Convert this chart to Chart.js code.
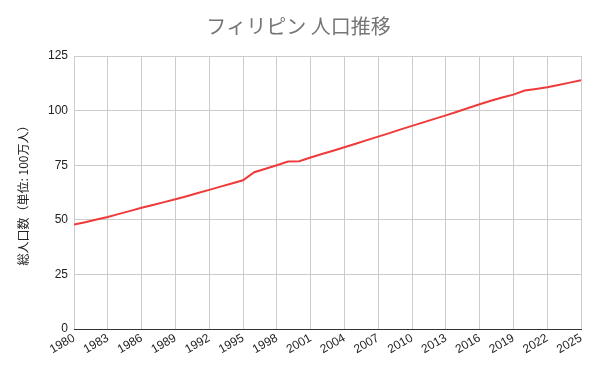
<!DOCTYPE html>
<html>
<head>
<meta charset="utf-8">
<script src="https://cdn.jsdelivr.net/npm/chart.js@4"></script>
<style>
html,body{margin:0;padding:0;background:#fff;}
#wrap{width:600px;height:371px;}
</style>
</head>
<body>
<div id="wrap"><canvas id="c" width="600" height="371"></canvas></div>
<script>
const years = [1980,1981,1982,1983,1984,1985,1986,1987,1988,1989,1990,1991,1992,1993,1994,1995,1996,1997,1998,1999,2000,2001,2002,2003,2004,2005,2006,2007,2008,2009,2010,2011,2012,2013,2014,2015,2016,2017,2018,2019,2020,2021,2022,2023,2024,2025];
const population = [47.8,48.9,50.1,51.3,52.7,54.1,55.5,56.8,58.1,59.4,60.8,62.3,63.7,65.2,66.6,68.1,71.8,73.4,75.0,76.7,76.8,78.5,80.1,81.6,83.2,84.8,86.5,88.1,89.7,91.4,93.0,94.6,96.2,97.8,99.5,101.2,102.9,104.5,106.0,107.3,109.2,109.9,110.7,111.7,112.8,113.9];
const xTicks = [1980,1983,1986,1989,1992,1995,1998,2001,2004,2007,2010,2013,2016,2019,2022,2025];
const yTicks = [0,25,50,75,100,125];
const titleText = 'フィリピン 人口推移';
const yTitle = '総人口数（単位: 100万人）';

const font = "'Liberation Sans', Arial, 'Noto Sans CJK JP', sans-serif";
Chart.defaults.font.family = font;

new Chart(document.getElementById('c'), {
  type: 'line',
  data: {
    datasets: [{
      data: years.map((y, i) => ({x: y, y: population[i]})),
      borderColor: '#f03a3a',
      borderWidth: 2,
      pointRadius: 0,
      tension: 0,
      fill: false
    }]
  },
  options: {
    responsive: false,
    animation: false,
    layout: {padding: {left: 16, right: 19, top: 0, bottom: 0}},
    plugins: {
      legend: {display: false},
      tooltip: {enabled: false},
      title: {
        display: true,
        text: titleText,
        color: '#757575',
        font: {size: 20, weight: 'normal', family: "'Noto Sans CJK JP', " + font},
        padding: {top: 14, bottom: 18}
      }
    },
    scales: {
      x: {
        type: 'linear',
        min: 1980,
        max: 2025,
        afterBuildTicks: (s) => { s.ticks = xTicks.map(v => ({value: v})); },
        afterFit: (s) => { s.height = 42; },
        ticks: {
          color: '#222',
          font: {size: 12},
          autoSkip: false,
          minRotation: 30,
          maxRotation: 30,
          padding: 2,
          callback: (v) => String(v)
        },
        grid: {color: '#cccccc', drawTicks: false, lineWidth: 1},
        border: {display: true, color: '#333333', width: 1}
      },
      y: {
        min: 0,
        max: 125,
        afterBuildTicks: (s) => { s.ticks = yTicks.map(v => ({value: v})); },
        afterFit: (s) => { s.width = 58; },
        ticks: {color: '#222', font: {size: 12}, padding: 6},
        grid: {color: '#cccccc', drawTicks: false, lineWidth: 1},
        border: {display: false},
        title: {
          display: true,
          text: yTitle,
          color: '#222',
          font: {size: 12, family: "'Noto Sans CJK JP', " + font},
          padding: {top: 0, bottom: 6}
        }
      }
    }
  }
});
</script>
</body>
</html>
